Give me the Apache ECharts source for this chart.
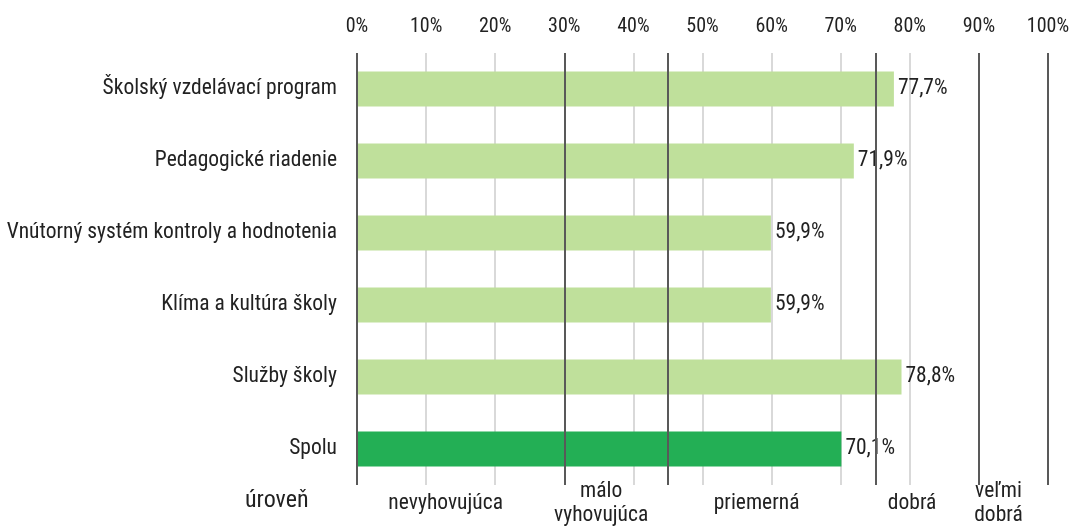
<!DOCTYPE html>
<html><head><meta charset="utf-8">
<script src="https://cdn.jsdelivr.net/npm/echarts@6/dist/echarts.min.js"></script>
<style>html,body{margin:0;padding:0;background:#fff}#c{width:1073px;height:526px}</style>
</head><body><div id="c"></div>
<script>
const categories = ["Školský vzdelávací program","Pedagogické riadenie","Vnútorný systém kontroly a hodnotenia","Klíma a kultúra školy","Služby školy","Spolu"];
const values = [77.7, 71.9, 59.9, 59.9, 78.8, 70.1];
const levelBounds = [0, 30, 45, 75, 90, 100];
const levelNames = ["nevyhovujúca","málo\nvyhovujúca","priemerná","dobrá","veľmi\ndobrá"];
const levelTitle = "úroveň";
const axisTicks = [0,10,20,30,40,50,60,70,80,90,100];

const FONT = "'Roboto Condensed','Liberation Sans Narrow','DejaVu Sans Condensed',Roboto,sans-serif";
const chart = echarts.init(document.getElementById('c'), null, {renderer:'canvas'});
const option = {
  animation:false,
  grid:{left:357, right:25, top:53, bottom:41, containLabel:false},
  xAxis:{type:'value', position:'top', min:axisTicks[0], max:axisTicks[axisTicks.length-1], interval:10,
    axisLine:{show:false}, axisTick:{show:false},
    axisLabel:{formatter:v=>v+'%', fontFamily:FONT, fontSize:20, color:'#222', margin:16},
    splitLine:{show:true, lineStyle:{color:'#d9d9d9', width:2}}},
  yAxis:{type:'category', data:categories, inverse:true,
    axisLine:{show:false}, axisTick:{show:false},
    axisLabel:{fontFamily:FONT, fontSize:21.5, color:'#222', margin:20}},
  series:[{type:'bar', barWidth:35,
    data: values.map((v,i)=>({value:v, itemStyle:{color: i===values.length-1 ? '#23AF55' : '#BFE09B'}})),
    label:{show:true, position:'right', distance:4, formatter:p=>p.value.toFixed(1).replace('.',',')+'%',
      fontFamily:FONT, fontSize:21.5, color:'#222'},
    markLine:{silent:true, symbol:'none', label:{show:false},
      lineStyle:{color:'#595959', width:2, type:'solid'},
      data: levelBounds.map(b=>({xAxis:b}))}
  }]
};
chart.setOption(option);
const yMid = 504;
const graphics = [];
graphics.push({type:'text', x:245, y:yMid-3, style:{text:levelTitle, fontFamily:FONT, fontSize:24, fill:'#222', verticalAlign:'middle'}});
for (let i=0;i<levelNames.length;i++){
  const mid = (levelBounds[i]+levelBounds[i+1])/2;
  const px = chart.convertToPixel({xAxisIndex:0}, mid) - 15;
  graphics.push({type:'text', x:px, y:yMid, style:{text:levelNames[i], fontFamily:FONT, fontSize:21.5, fill:'#222', align:'center', verticalAlign:'middle', lineHeight:24}});
}
chart.setOption({graphic:graphics});
</script></body></html>
